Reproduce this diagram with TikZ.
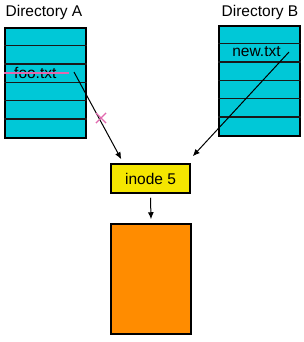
\documentclass[tikz,border=0pt]{standalone}
\usepackage{fontspec}
\setmainfont{Liberation Sans}
\usepackage{tikz}
\usetikzlibrary{arrows.meta,shapes.misc}
\definecolor{dircol}{RGB}{0,200,215}
\definecolor{inocol}{RGB}{245,230,0}
\definecolor{blkcol}{RGB}{255,140,0}
\definecolor{strike}{RGB}{225,105,175}

\begin{document}
\begin{tikzpicture}[x=1pt, y=-1pt, every node/.style={font=\fontsize{15.5}{18}\selectfont},
  dir/.style={draw, line width=1.5pt, fill=dircol, minimum width=81pt, minimum height=110pt, inner sep=0pt},
  ino/.style={draw, line width=1.5pt, fill=inocol, minimum width=79pt, minimum height=29pt, inner sep=0pt},
  blk/.style={draw, line width=1.5pt, fill=blkcol, minimum width=80pt, minimum height=110pt, inner sep=0pt},
  row/.style={line width=1.4pt, black!90},
  a/.style={-{Latex[length=7pt, width=6pt]}, line width=1pt}]
\useasboundingbox (0,0) rectangle (303,342);
\node (labA) at (44,12) {Directory A};
\node (labB) at (260,12) {Directory B};
\node[dir] (dA) at (45.5,83) {};
\node[dir] (dB) at (259.5,81) {};
\foreach \i in {1,...,5} {
  \draw[row] ([yshift=-\i*110pt/6]dA.north west) -- ([yshift=-\i*110pt/6]dA.north east);
  \draw[row] ([yshift=-\i*110pt/6]dB.north west) -- ([yshift=-\i*110pt/6]dB.north east);
}
\node[anchor=west, inner sep=0pt] (foo) at (14,73) {foo.txt};
\node[inner sep=0pt] (new) at (256.5,52) {new.txt};
\draw[strike, line width=2pt] (dA.west |- foo.center) -- ([xshift=12pt]foo.east);
\node[ino] (inode) at (150.5,178.5) {inode 5};
\node[blk] (data) at (151,279) {};
\coordinate (fa) at (74,72);
\coordinate (nb) at (289,52);
\draw[a] (fa) -- ([xshift=11pt, yshift=4pt]inode.north west);
\draw[a] (nb) -- ([xshift=2pt, yshift=7pt]inode.north east);
\draw[a] ([yshift=-4pt]inode.south) -- ([yshift=4pt]data.north);
\node[cross out, draw=strike, line width=1.2pt, minimum size=9pt, inner sep=0pt] (cut) at (101,118) {};
\end{tikzpicture}
\end{document}
